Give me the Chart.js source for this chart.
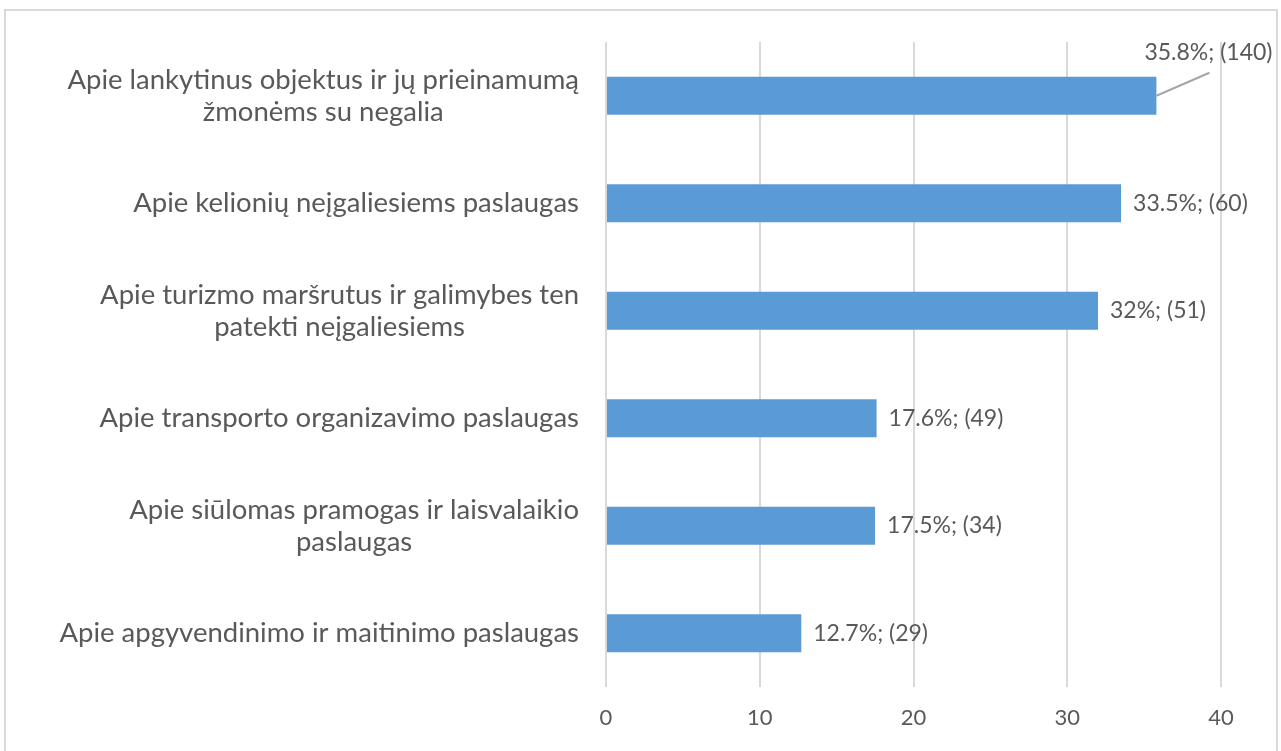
<!DOCTYPE html>
<html>
<head>
<meta charset="utf-8">
<script src="https://cdn.jsdelivr.net/npm/chart.js@4"></script>
<style>
  html, body { margin: 0; padding: 0; background: #fff; }
  #wrap { position: relative; width: 1281px; height: 751px; }
</style>
</head>
<body>
<div id="wrap"><canvas id="surveyChart" width="1281" height="751"></canvas></div>
<script>
const categories = [
    ["Apie lankytinus objektus ir jų prieinamumą", "žmonėms su negalia"],
    ["Apie kelionių neįgaliesiems paslaugas"],
    ["Apie turizmo maršrutus ir galimybes ten", "patekti neįgaliesiems"],
    ["Apie transporto organizavimo paslaugas"],
    ["Apie siūlomas pramogas ir laisvalaikio", "paslaugas"],
    ["Apie apgyvendinimo ir maitinimo paslaugas"]
]
const percentValues = [35.8, 33.5, 32, 17.6, 17.5, 12.7]
const respondentCounts = [140, 60, 51, 49, 34, 29]
const xTicks = [0, 10, 20, 30, 40]

const textColor = "#595959"
const fontName = "Lato, 'Open Sans', sans-serif"

// frame round the whole picture
const framePlugin = {
    id: "frame",
    beforeDraw(chart) {
        let ctx = chart.ctx
        ctx.save()
        ctx.strokeStyle = "#d9d9d9"
        ctx.lineWidth = 2
        ctx.strokeRect(5, 10, 1272, 760)
        ctx.restore()
    }
}

// category names: lines centred on each other, block right aligned
const categoryLabelPlugin = {
    id: "categoryLabels",
    afterDraw(chart) {
        let ctx = chart.ctx
        let yScale = chart.scales.y
        ctx.save()
        ctx.font = "27.5px " + fontName
        ctx.fillStyle = textColor
        ctx.textBaseline = "middle"
        ctx.textAlign = "center"
        let right = 579
        let lineH = 32
        categories.forEach((lines, i) => {
            let widest = Math.max(...lines.map(l => ctx.measureText(l).width))
            let cx = right - widest / 2
            let cy = yScale.getPixelForValue(i)
            let top = cy - (lines.length - 1) * lineH / 2
            lines.forEach((l, j) => ctx.fillText(l, cx, top + j * lineH))
        })
        ctx.restore()
    }
}

// value labels "x%; (n)" next to each bar
const valueLabelPlugin = {
    id: "valueLabels",
    afterDatasetsDraw(chart) {
        let ctx = chart.ctx
        let bars = chart.getDatasetMeta(0).data
        ctx.save()
        ctx.font = "23px " + fontName
        ctx.fillStyle = textColor
        ctx.textBaseline = "middle"
        ctx.textAlign = "left"
        bars.forEach((bar, i) => {
            let text = percentValues[i] + "%; (" + respondentCounts[i] + ")"
            if (i == 0) {
                // first label sits above the bar with a leader line
                ctx.strokeStyle = "#a6a6a6"
                ctx.lineWidth = 2
                ctx.beginPath()
                ctx.moveTo(bar.x, bar.y)
                ctx.lineTo(bar.x + 53, bar.y - 23)
                ctx.stroke()
                ctx.fillText(text, bar.x - 12, bar.y - 43)
            } else {
                ctx.fillText(text, bar.x + 12, bar.y)
            }
        })
        ctx.restore()
    }
}

let surveyChart = new Chart(document.getElementById("surveyChart"), {
    type: "bar",
    data: {
        labels: categories.map(c => c.join(" ")),
        datasets: [{
            data: percentValues,
            backgroundColor: "#5b9bd5",
            barPercentage: 0.355,
            categoryPercentage: 1
        }]
    },
    options: {
        indexAxis: "y",
        responsive: false,
        animation: false,
        devicePixelRatio: 1,
        layout: { padding: { top: 42, right: 60, left: 0, bottom: 0 } },
        plugins: { legend: { display: false }, tooltip: { enabled: false } },
        scales: {
            x: {
                min: 0,
                max: 40,
                afterBuildTicks(scale) { scale.ticks = xTicks.map(v => ({ value: v })) },
                afterFit(scale) { scale.height = 64 },
                grid: { color: "#d9d9d9", lineWidth: 2, drawTicks: false },
                border: { display: false },
                ticks: { color: textColor, font: { family: fontName, size: 22 }, padding: 18 }
            },
            y: {
                afterFit(scale) { scale.width = 606 },
                grid: { display: false },
                border: { display: false },
                ticks: { display: false }
            }
        }
    },
    plugins: [framePlugin, categoryLabelPlugin, valueLabelPlugin]
})
</script>
</body>
</html>
